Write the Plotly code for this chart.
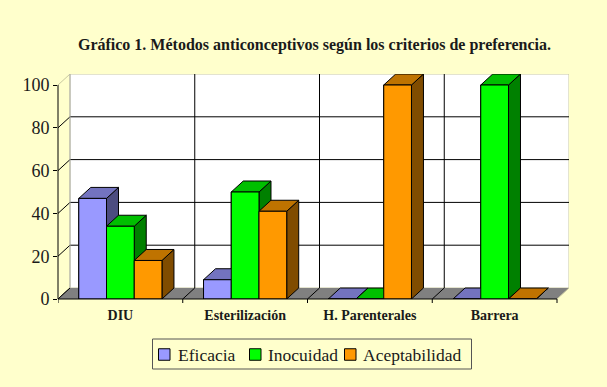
import plotly.graph_objects as go

# ---- data ----
categories = ["DIU", "Esterilización", "H. Parenterales", "Barrera"]
series_names = ["Eficacia", "Inocuidad", "Aceptabilidad"]
eficacia = [47, 9, 0, 0]
inocuidad = [34, 50, 0, 100]
aceptabilidad = [18, 41, 100, 0]
y_ticks = [0, 20, 40, 60, 80, 100]
title_text = "Gráfico 1. Métodos anticonceptivos según los criterios de preferencia."

series_values = [eficacia, inocuidad, aceptabilidad]

# ---- style ----
front_colors = ["#9999FF", "#00FF00", "#FF9900"]
top_colors = ["#7373BF", "#00BF00", "#BF7300"]
side_colors = ["#4C4C80", "#008000", "#804C00"]
BG = "#FFFFCC"
FONT = "Liberation Serif"
TXT = "#1A1A1A"

WIDTH, HEIGHT = 607, 387
ML, MR, MT, MB = 58, 38, 74, 88
PW = WIDTH - ML - MR
PH = HEIGHT - MT - MB
PX_X = 124.75          # pixels per category
PX_Y = 2.14            # pixels per value unit
DX = 12 / PX_X         # depth offset (x units)
DY = 11 / PX_Y         # depth offset (y units)
ncat = len(categories)
nser = len(series_names)
BARGAP = 1 / 3
W = (1 - BARGAP) / nser
YMAX = y_ticks[-1]


def px2paper_x(px):
    return (px - ML) / PW


def px2paper_y(py):
    return (HEIGHT - MB - py) / PH


fig = go.Figure()

# data bars (covered by 3D faces drawn on top)
for s in range(nser):
    fig.add_trace(go.Bar(
        x=list(range(ncat)), y=series_values[s], name=series_names[s],
        marker=dict(color=front_colors[s], line=dict(color="black", width=1)),
        hoverinfo="skip", showlegend=False,
    ))


def poly(xs, ys, color):
    fig.add_trace(go.Scatter(
        x=xs + [xs[0]], y=ys + [ys[0]], mode="lines", fill="toself",
        fillcolor=color, line=dict(color="black", width=1),
        showlegend=False, hoverinfo="skip",
    ))


for c in range(ncat):
    for s in range(nser):
        v = series_values[s][c]
        x0 = c - (1 - BARGAP) / 2 + s * W
        x1 = x0 + W
        poly([x1, x1 + DX, x1 + DX, x1], [0, DY, v + DY, v], side_colors[s])
        poly([x0, x1, x1 + DX, x0 + DX], [v, v, v + DY, v + DY], top_colors[s])
        poly([x0, x1, x1, x0], [0, 0, v, v], front_colors[s])

shapes = []
annotations = []
xl, xr = -0.5, ncat - 0.5
# back wall
shapes.append(dict(type="rect", xref="x", yref="y", x0=xl + DX, x1=xr + DX,
                   y0=DY, y1=YMAX + DY, fillcolor="white",
                   line=dict(color="#C8C8A0", width=1), layer="below"))
for t in y_ticks[1:-1]:
    shapes.append(dict(type="line", xref="x", yref="y", x0=xl + DX, x1=xr + DX,
                       y0=t + DY, y1=t + DY, line=dict(color="black", width=1),
                       layer="below"))
for t in y_ticks[:-1]:
    shapes.append(dict(type="line", xref="x", yref="y", x0=xl, x1=xl + DX,
                       y0=t, y1=t + DY, line=dict(color="black", width=1),
                       layer="below"))
shapes.append(dict(type="line", xref="x", yref="y", x0=xl, x1=xl + DX,
                   y0=YMAX, y1=YMAX + DY, line=dict(color="#C8C8A0", width=1),
                   layer="below"))
shapes.append(dict(type="line", xref="x", yref="y", x0=xl + DX, x1=xl + DX,
                   y0=DY, y1=YMAX + DY, line=dict(color="#B0B0B0", width=1),
                   layer="below"))
for k in range(1, ncat):
    shapes.append(dict(type="line", xref="x", yref="y", x0=k - 0.5 + DX,
                       x1=k - 0.5 + DX, y0=DY, y1=YMAX + DY,
                       line=dict(color="black", width=1), layer="below"))
# floor
shapes.append(dict(type="path", xref="x", yref="y",
                   path=f"M {xl},0 L {xr},0 L {xr + DX},{DY} L {xl + DX},{DY} Z",
                   fillcolor="#808080", line=dict(width=0), layer="below"))
for k in range(ncat + 1):
    col = "black" if k < ncat else "#C8C8A0"
    shapes.append(dict(type="line", xref="x", yref="y", x0=k - 0.5,
                       x1=k - 0.5 + DX, y0=0, y1=DY,
                       line=dict(color=col, width=1), layer="below"))
# front axes
shapes.append(dict(type="line", xref="x", yref="paper", x0=xl, x1=xr,
                   y0=0, y1=0, line=dict(color="black", width=1)))
shapes.append(dict(type="line", xref="paper", yref="y", x0=0, x1=0,
                   y0=0, y1=YMAX, line=dict(color="black", width=1)))
for k in range(ncat + 1):
    shapes.append(dict(type="line", xref="x", yref="paper", x0=k - 0.5,
                       x1=k - 0.5, y0=0, y1=-4 / PH,
                       line=dict(color="black", width=1)))

# legend (drawn as box + swatches + text)
LEG_BOX = (152.5, 339, 471.5, 369)
LEG_SWATCH_X = [158.5, 249.5, 344.5]
LEG_TEXT_X = [175.5, 265.5, 360.5]
LEG_CY = 354.5
SW = 11.5
shapes.append(dict(type="rect", xref="paper", yref="paper",
                   x0=px2paper_x(LEG_BOX[0]), x1=px2paper_x(LEG_BOX[2]),
                   y0=px2paper_y(LEG_BOX[3]), y1=px2paper_y(LEG_BOX[1]),
                   fillcolor=BG, line=dict(color="#555555", width=1)))
for s in range(nser):
    shapes.append(dict(type="rect", xref="paper", yref="paper",
                       x0=px2paper_x(LEG_SWATCH_X[s]),
                       x1=px2paper_x(LEG_SWATCH_X[s] + SW),
                       y0=px2paper_y(LEG_CY + SW / 2),
                       y1=px2paper_y(LEG_CY - SW / 2),
                       fillcolor=front_colors[s],
                       line=dict(color="black", width=1)))
    annotations.append(dict(text=series_names[s], xref="paper", yref="paper",
                            x=px2paper_x(LEG_TEXT_X[s]), y=px2paper_y(LEG_CY),
                            xanchor="left", yanchor="middle", showarrow=False,
                            font=dict(size=17.5, family=FONT, color=TXT)))

fig.update_layout(
    width=WIDTH, height=HEIGHT, autosize=False,
    margin=dict(l=ML, r=MR, t=MT, b=MB, autoexpand=False),
    paper_bgcolor=BG, plot_bgcolor="rgba(0,0,0,0)",
    barmode="group", bargap=BARGAP, bargroupgap=0,
    font=dict(family=FONT, color=TXT),
    shapes=shapes, annotations=annotations,
    title=dict(text="<b>" + title_text + "</b>",
               font=dict(size=16, family=FONT, color=TXT),
               x=314.5 / WIDTH, xref="container", xanchor="center",
               y=1 - 44 / HEIGHT, yref="container", yanchor="middle"),
    xaxis=dict(range=[xl, xr + DX], tickmode="array",
               tickvals=list(range(ncat)),
               ticktext=["<b>" + c + "</b>" for c in categories],
               tickfont=dict(size=14, family=FONT, color=TXT), ticks="",
               ticklabelstandoff=6,
               showgrid=False, zeroline=False, showline=False, fixedrange=True),
    yaxis=dict(range=[0, YMAX + DY], tickmode="array", tickvals=y_ticks,
               ticks="outside", ticklen=4, tickcolor="black",
               tickfont=dict(size=18, family=FONT, color=TXT),
               showgrid=False, zeroline=False, showline=False, fixedrange=True),
    showlegend=False,
)

fig.write_html("out.html", config={"displayModeBar": False},
               post_script="document.body.style.margin='0';")
